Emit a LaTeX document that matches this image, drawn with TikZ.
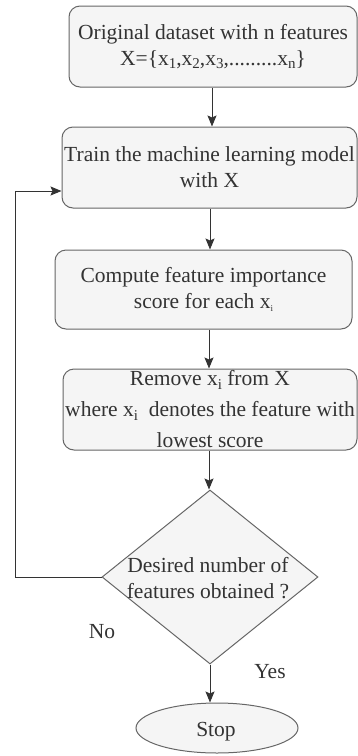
\documentclass[tikz,border=0pt]{standalone}
\usepackage{fontspec}
\setmainfont{Liberation Serif}
\usetikzlibrary{shapes.geometric,arrows.meta}
\definecolor{boxfill}{HTML}{F5F5F5}
\definecolor{boxline}{HTML}{666666}
\definecolor{ink}{HTML}{333333}
% subscript helpers: a large one and a small one
\newcommand{\sbL}[1]{\raisebox{-0.35ex}{\fontsize{15}{15}\selectfont #1}}
\newcommand{\sbS}[1]{\raisebox{-0.3ex}{\fontsize{9}{9}\selectfont #1}}
\tikzset{
  base/.style={font=\fontsize{21.5}{26}\selectfont, text=ink},
  stepbox/.style={base, draw=boxline, fill=boxfill, line width=1pt,
    rounded corners=11pt, inner sep=0pt, align=center},
  decision/.style={draw=boxline, fill=boxfill, line width=1pt, diamond,
    inner sep=0pt, minimum width=216pt, minimum height=174pt},
  terminal/.style={base, draw=boxline, fill=boxfill, line width=1pt, ellipse,
    inner sep=0pt, minimum width=162pt, minimum height=50pt},
  arr/.style={draw=ink, line width=1pt, -{Stealth[length=11pt,width=9pt,inset=2pt]}},
  lbl/.style={base}
}
\begin{document}
\begin{tikzpicture}[x=1pt,y=-1pt]
\useasboundingbox (0,0) rectangle (358,756);

\node[stepbox, minimum width=288pt, minimum height=81pt] (b1) at (213,46.5)
  {Original dataset with n features\\
   X=\{x\sbL{1},x\sbL{2},x\sbL{3},.........x\sbL{n}\}};
\node[stepbox, minimum width=295pt, minimum height=81pt] (b2) at (209.5,167.5)
  {Train the machine learning model\\ with X};
\node[stepbox, minimum width=297pt, minimum height=79pt] (b3) at (203.5,289.5)
  {Compute feature importance\\ score for each x\sbS{i}};
\node[stepbox, minimum width=294pt, minimum height=81pt,
      font=\fontsize{21.5}{31}\selectfont] (b4) at (210,409.5)
  {Remove x\sbL{i} from X\\ where x\sbL{i}\ \ denotes the feature with\\ lowest score};

\node[decision] (dia) at (210,577) {};
\node[base, align=center, inner sep=0pt] (dtext) at (208,578)
  {Desired number of\\ features obtained ?};

\node[terminal] (stop) at (217,728) {};
\node[base, inner sep=0pt] (stoptext) at (216,732) {Stop};

\node[lbl] (no) at (102,632) {No};
\node[lbl] (yes) at (270,672) {Yes};

\coordinate (ax) at (210,0);
\coordinate (lp) at (15,191);

\draw[arr] (b1.south -| 212,0) -- (b2.north -| 212,0);
\draw[arr] (b2.south -| ax) -- (b3.north -| ax);
\draw[arr] (b3.south -| 209,0) -- (b4.north -| 209,0);
\draw[arr] (b4.south -| 209,0) -- (dia.north -| 209,0);
\draw[arr] (dia.south) -- (stop.north -| dia.south);
\draw[arr] (dia.west) -| (lp) -- (lp -| b2.west);
\end{tikzpicture}
\end{document}
